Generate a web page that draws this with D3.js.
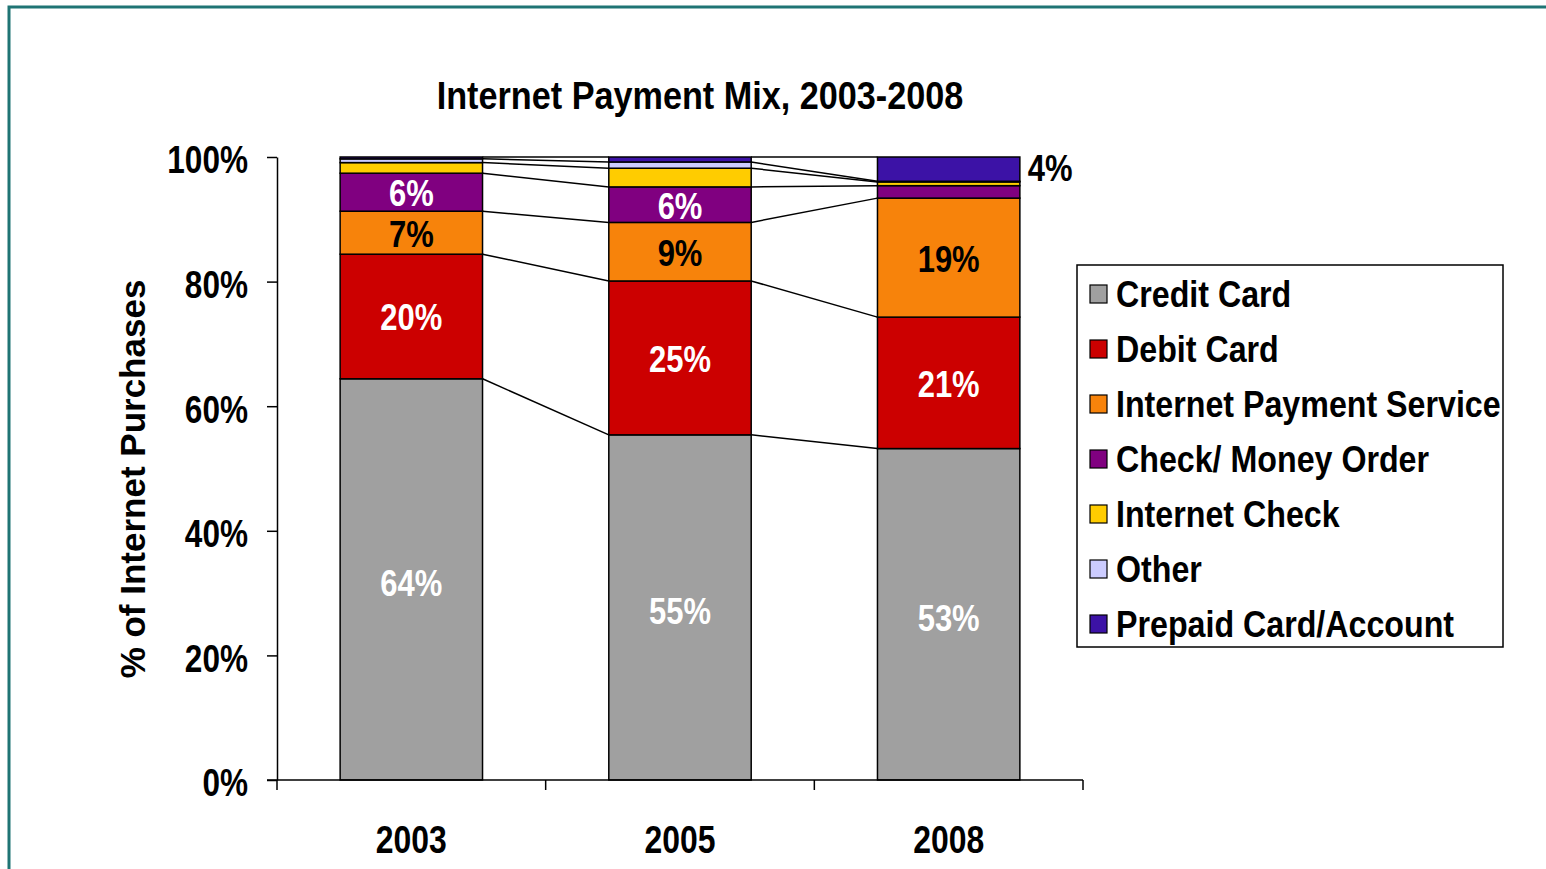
<!DOCTYPE html>
<html>
<head>
<meta charset="utf-8">
<script src="https://cdn.jsdelivr.net/npm/d3@7"></script>
<style>
  body { margin: 0; background: #fff; }
  svg text { font-family: "Liberation Sans", Arial, sans-serif; font-weight: bold; }
</style>
</head>
<body>
<svg width="1546" height="869"></svg>
<script>
// stacked payment mix, % of internet purchases

var years = ["2003", "2005", "2008"];
var seriesNames = ["Credit Card", "Debit Card", "Internet Payment Service", "Check/ Money Order", "Internet Check", "Other", "Prepaid Card/Account"];
var creditCard = [64.4, 55.4, 53.2];
var debitCard = [20.0, 24.7, 21.1];
var paymentService = [6.9, 9.4, 19.1];
var checkMoneyOrder = [6.1, 5.7, 2.0];
var internetCheck = [1.7, 3.0, 0.6];
var other = [0.6, 1.0, 0.1];
var prepaidCard = [0.3, 0.8, 3.9];
var yTicks = [0, 20, 40, 60, 80, 100];

var colors = ["#a0a0a0", "#cc0000", "#f7830b", "#800080", "#ffcc00", "#ccccff", "#3c12a6"];
var labelColors = ["#fff", "#fff", "#000", "#fff", "#000", "#000", "#000"];

var seriesValues = [creditCard, debitCard, paymentService, checkMoneyOrder, internetCheck, other, prepaidCard];

var svg = d3.select("svg");

// no narrow font installed, so squeeze the glyphs horizontally
function squeeze(sel, k) {
  sel.each(function () {
    var w = this.getComputedTextLength();
    d3.select(this)
      .attr("textLength", w * k)
      .attr("lengthAdjust", "spacingAndGlyphs");
  });
  return sel;
}

// teal frame
svg.append("rect")
  .attr("x", 9).attr("y", 7)
  .attr("width", 1700).attr("height", 1000)
  .attr("fill", "none")
  .attr("stroke", "#1f7474")
  .attr("stroke-width", 3);

var margin = {top: 157, bottom: 89, left: 277, right: 463};
var height = 869 - margin.bottom;

var x = d3.scaleBand()
  .domain(years)
  .range([margin.left, 1546 - margin.right])
  .paddingInner(0.47)
  .paddingOuter(0.235);

var y = d3.scaleLinear()
  .domain([0, 100])
  .range([height, margin.top]);

// build rows for d3.stack
var rows = years.map(function (yr, i) {
  var r = {year: yr};
  seriesNames.forEach(function (s, k) { r[s] = seriesValues[k][i]; });
  return r;
});
var stacked = d3.stack().keys(seriesNames)(rows);

// connector lines between bars at each stack boundary
var g = svg.append("g");
stacked.forEach(function (layer) {
  for (var i = 0; i < years.length - 1; i++) {
    g.append("line")
      .attr("x1", x(years[i]) + x.bandwidth())
      .attr("x2", x(years[i + 1]))
      .attr("y1", y(layer[i][1]))
      .attr("y2", y(layer[i + 1][1]))
      .attr("stroke", "#000")
      .attr("stroke-width", 1.5);
  }
});

// bars
var layers = svg.append("g").selectAll("g")
  .data(stacked)
  .enter().append("g")
  .attr("fill", function (d, i) { return colors[i]; });

layers.selectAll("rect")
  .data(function (d) { return d; })
  .enter().append("rect")
  .attr("x", function (d) { return x(d.data.year); })
  .attr("y", function (d) { return y(d[1]); })
  .attr("width", x.bandwidth())
  .attr("height", function (d) { return y(d[0]) - y(d[1]); })
  .attr("stroke", "#000")
  .attr("stroke-width", 1.5);

// value labels
stacked.forEach(function (layer, k) {
  layer.forEach(function (d, i) {
    var v = d[1] - d[0];
    if (v < 3.5) return;
    var h = y(d[0]) - y(d[1]);
    var t = svg.append("text")
      .attr("font-size", 36)
      .text(Math.round(v) + "%");
    if (h < 30) {
      t.attr("x", x(d.data.year) + x.bandwidth() + 8)
        .attr("y", (y(d[0]) + y(d[1])) / 2 + 12)
        .attr("fill", "#000");
    } else {
      t.attr("x", x(d.data.year) + x.bandwidth() / 2)
        .attr("y", (y(d[0]) + y(d[1])) / 2 + (k === 0 ? 17 : 14))
        .attr("text-anchor", "middle")
        .attr("fill", labelColors[k]);
    }
    squeeze(t, 0.86);
  });
});

// y axis
var yAxis = svg.append("g")
  .attr("transform", "translate(" + margin.left + ",0)")
  .call(d3.axisLeft(y).tickValues(yTicks).tickSize(10).tickSizeOuter(0).tickPadding(19)
    .tickFormat(function (d) { return d + "%"; }));
yAxis.selectAll("text").attr("font-size", 38).attr("fill", "#000").attr("dy", "0.42em")
  .style("font-family", "'Liberation Sans', Arial, sans-serif");
squeeze(yAxis.selectAll("text"), 0.83);
yAxis.selectAll("line, path").attr("stroke", "#000").attr("stroke-width", 1.5);

// x axis
var xAxis = svg.append("g")
  .attr("transform", "translate(0," + height + ")")
  .call(d3.axisBottom(x).tickSize(0).tickPadding(46));
xAxis.select("path").attr("d", "M" + (margin.left - 10) + ",0H" + x.range()[1])
  .attr("stroke", "#000").attr("stroke-width", 1.5);
xAxis.selectAll("text").attr("font-size", 38).attr("fill", "#000")
  .style("font-family", "'Liberation Sans', Arial, sans-serif");
squeeze(xAxis.selectAll("text"), 0.84);
d3.range(years.length + 1).forEach(function (i) {
  var xx = x.range()[0] + i * x.step();
  xAxis.append("line")
    .attr("x1", xx).attr("x2", xx)
    .attr("y1", 0).attr("y2", 10)
    .attr("stroke", "#000").attr("stroke-width", 1.5);
});

// title
var title = svg.append("text")
  .attr("x", 700).attr("y", 109)
  .attr("text-anchor", "middle")
  .attr("font-size", 38)
  .text("Internet Payment Mix, 2003-2008");
squeeze(title, 0.9);

// y axis title
svg.append("text")
  .attr("transform", "translate(145,479) rotate(-90)")
  .attr("text-anchor", "middle")
  .attr("font-size", 35)
  .text("% of Internet Purchases");

// legend
var legend = svg.append("g");
legend.append("rect")
  .attr("x", 1077).attr("y", 265)
  .attr("width", 426).attr("height", 382)
  .attr("fill", "#fff")
  .attr("stroke", "#000")
  .attr("stroke-width", 1.5);

var legendLabels = ["Credit Card", "Debit Card", "Internet Payment Service", "Check/ Money Order", "Internet Check", "Other", "Prepaid Card/Account"];
legendLabels.forEach(function (s, i) {
  var cy = 294 + i * 55;
  legend.append("rect")
    .attr("x", 1090).attr("y", cy - 9)
    .attr("width", 17).attr("height", 18)
    .attr("fill", colors[i])
    .attr("stroke", "#000")
    .attr("stroke-width", 1.2);
  var t = legend.append("text")
    .attr("x", 1116).attr("y", cy + 13)
    .attr("font-size", 37)
    .text(s);
  squeeze(t, 0.87);
});
</script>
</body>
</html>
